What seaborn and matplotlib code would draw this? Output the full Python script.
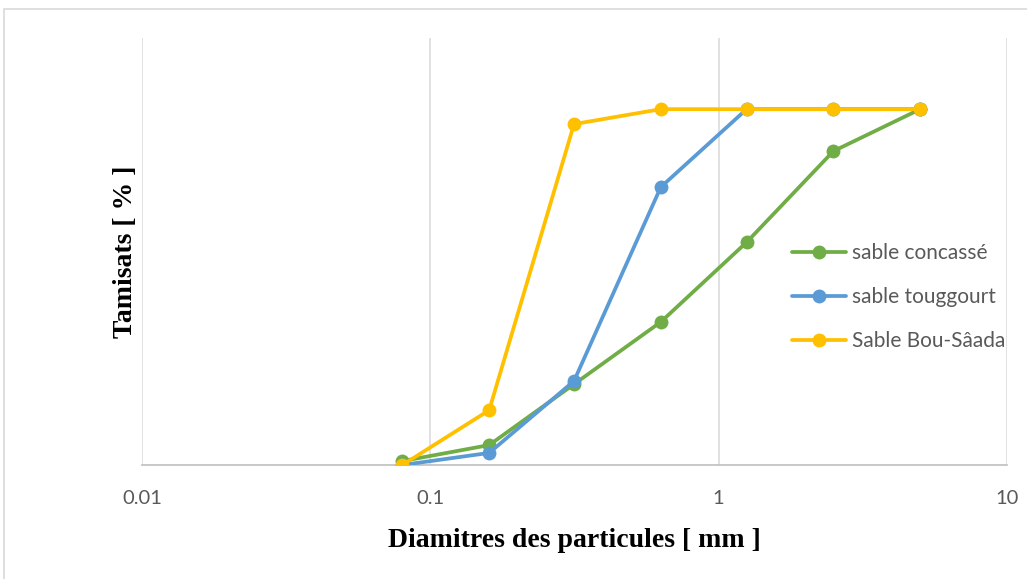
import numpy as np
import pandas as pd
import matplotlib
matplotlib.use("Agg")
import matplotlib.pyplot as plt
import seaborn as sns
from matplotlib.patches import Rectangle

# sieve sizes (mm) and passing percentages
diam = [0.08, 0.16, 0.315, 0.63, 1.25, 2.5, 5]
concasse = [1.1, 5.6, 22.7, 40.2, 62.6, 88.2, 100]
touggourt = [0.0, 3.4, 23.6, 78.1, 100, 100, 100]
bousaada = [0.0, 15.4, 95.8, 100, 100, 100, 100]

names = ["sable concassé", "sable touggourt", "Sable Bou-Sâada"]
colors = ["#70ad47", "#5b9bd5", "#ffc000"]

df = pd.DataFrame({
    "d": diam * 3,
    "p": concasse + touggourt + bousaada,
    "sable": [n for n in names for _ in diam],
})

sns.set_theme(style="white")
plt.rcParams["font.family"] = ["Lato", "DejaVu Sans"]

fig = plt.figure(figsize=(10.27, 5.79), dpi=100)
ax = fig.add_axes([142 / 1027, 1 - 465 / 579, 865 / 1027, 427 / 579])

# outer chart frame
fig.patches.append(Rectangle((4 / 1027, -0.05), 1.1, 1 - 9 / 579 + 0.05,
                             transform=fig.transFigure, fill=False,
                             edgecolor="#d9d9d9", linewidth=1.2))

for n, c in zip(names, colors):
    sns.lineplot(data=df[df["sable"] == n], x="d", y="p", ax=ax, color=c,
                 linewidth=2.7, marker="o", markersize=10, markeredgewidth=0,
                 label=n, zorder=3)

ax.set_xscale("log")
ax.set_xlim(0.01, 10)
ax.set_ylim(0, 120)
ax.set_yticks([])
ax.set_xticks([0.01, 0.1, 1, 10])
ax.set_xticklabels(["0.01", "0.1", "1", "10"])
ax.minorticks_off()
ax.tick_params(axis="x", colors="#595959", labelsize=14.5, length=0, pad=18)
ax.grid(axis="x", color="#d9d9d9", linewidth=1.1)
for s in ["top", "left", "right"]:
    ax.spines[s].set_visible(False)
ax.spines["bottom"].set_color("#bfbfbf")
ax.spines["bottom"].set_linewidth(1.2)

ax.set_xlabel("Diamitres des particules [ mm ]", family="Liberation Serif",
              fontweight="bold", fontsize=20, color="black", labelpad=15)
ax.set_ylabel("Tamisats [ % ]", family="Liberation Serif",
              fontweight="bold", fontsize=20, color="black", labelpad=3)

leg = ax.legend(loc="center left", bbox_to_anchor=(0.751, 0.393), frameon=False,
                fontsize=15, labelspacing=1.15, handlelength=2.6,
                handletextpad=0.3, borderaxespad=0, borderpad=0)
for t in leg.get_texts():
    t.set_color("#595959")

fig.savefig("out.png", dpi=100)
